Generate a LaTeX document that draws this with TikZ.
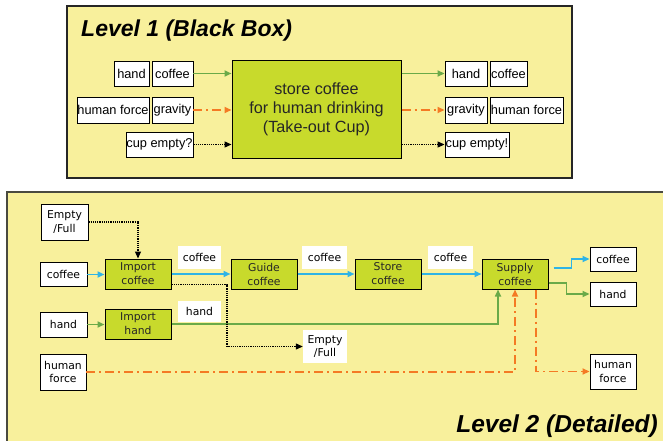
\documentclass[tikz,border=0pt]{standalone}
\usepackage{fontspec}
\setmainfont{Liberation Sans}
\newfontfamily\dvs{DejaVu Sans}
\usetikzlibrary{arrows.meta,calc}

\definecolor{panel}{HTML}{F8F09C}
\definecolor{funcbox}{HTML}{C8DA2C}
\definecolor{flowgreen}{HTML}{6AAA48}
\definecolor{floworange}{HTML}{F47A24}
\definecolor{flowblue}{HTML}{2EB4E6}
\definecolor{frame}{HTML}{4A4A40}

\tikzset{
  x=1pt, y=-1pt,
  tip/.style={-{Triangle[length=7pt,width=6pt]}},
  flowbox/.style={draw=black, fill=white, line width=0.9pt, inner sep=0pt,
    font=\fontsize{12.8}{14}\selectfont},
  flowbox2/.style={draw=black, fill=white, line width=0.9pt, inner sep=0pt,
    align=center, font=\dvs\fontsize{10.8}{13.5}\selectfont},
  labelbox/.style={fill=white, inner sep=0pt, align=center,
    font=\dvs\fontsize{10.8}{13.5}\selectfont},
  funcnode/.style={draw=black, fill=funcbox, line width=1pt, inner sep=0pt,
    align=center, text=black!85},
  greenflow/.style={tip, draw=flowgreen, line width=1.9pt},
  orangeflow/.style={tip, draw=floworange, line width=1.6pt,
    dash pattern=on 9pt off 4pt on 2pt off 4pt},
  blueflow/.style={tip, draw=flowblue, line width=1.9pt},
  signalflow/.style={tip, draw=black, line width=1.2pt, densely dotted},
  title/.style={font=\fontsize{23}{26}\selectfont\bfseries\itshape, inner sep=0pt}
}

\begin{document}
\begin{tikzpicture}
\useasboundingbox (0,0) rectangle (663,441);

% ---------- panels ----------
\fill[white] (0,0) rectangle (663,441);
\draw[fill=panel, draw=black!85, line width=1.3pt] (67,6) rectangle (572,178);
\begin{scope}
  \clip (0,0) rectangle (663,441);
  \draw[fill=panel, draw=frame, line width=2pt] (7,192) rectangle (690,470);
\end{scope}

% ---------- Level 1 ----------
\node[title, anchor=base west] (t1) at (81,37) {Level 1 (Black Box)};

\node[funcnode, minimum width=169pt, minimum height=97pt,
      font=\fontsize{16.2}{19}\selectfont] (core) at (316.5,109.5)
      {store coffee\\for human drinking\\(Take-out Cup)};

\node[flowbox, minimum width=35pt, minimum height=25pt] (ihand) at (131.5,73.5) {hand};
\node[flowbox, minimum width=41pt, minimum height=25pt] (icoffee) at (172.5,73.5) {coffee};
\node[flowbox, minimum width=72pt, minimum height=26pt] (iforce) at (113,110) {human force};
\node[flowbox, minimum width=41pt, minimum height=26pt] (igrav) at (172.5,110) {gravity};
\node[flowbox, minimum width=67pt, minimum height=25pt] (icup) at (159.5,144.5) {cup empty?};

\node[flowbox, minimum width=42pt, minimum height=25pt] (ohand) at (466,73.5) {hand};
\node[flowbox, minimum width=37pt, minimum height=25pt] (ocoffee) at (508.5,73.5) {coffee};
\node[flowbox, minimum width=42pt, minimum height=26pt] (ograv) at (466,110) {gravity};
\node[flowbox, minimum width=73pt, minimum height=26pt] (oforce) at (526.5,110) {human force};
\node[flowbox, minimum width=64pt, minimum height=25pt] (ocup) at (477,144.5) {cup empty!};

\draw[greenflow] (icoffee.east) -- (icoffee.east -| core.west);
\draw[orangeflow] (igrav.east) -- (igrav.east -| core.west);
\draw[signalflow] (icup.east) -- (icup.east -| core.west);
\draw[greenflow] (core.east |- ohand.west) -- (ohand.west);
\draw[orangeflow] (core.east |- ograv.west) -- (ograv.west);
\draw[signalflow] (core.east |- ocup.west) -- (ocup.west);

% ---------- Level 2 ----------
\node[title, anchor=base east, font=\fontsize{24.5}{27}\selectfont\bfseries\itshape] (t2) at (658,432) {Level 2 (Detailed)};

\node[flowbox2, minimum width=47pt, minimum height=36pt] (ef) at (64.5,222) {Empty\\/Full};
\node[flowbox2, minimum width=47pt, minimum height=24pt] (cin) at (63.5,274.5) {coffee};
\node[flowbox2, minimum width=47pt, minimum height=25pt] (hin) at (63.5,324.5) {hand};
\node[flowbox2, minimum width=46pt, minimum height=36pt] (fin) at (63,372) {human\\force};

\tikzset{fn2/.style={funcnode, minimum width=66pt, minimum height=30pt,
  font=\dvs\fontsize{10.8}{14}\selectfont}}
\node[fn2] (ic) at (138,274) {Import\\coffee};
\node[fn2] (ih) at (138,324) {Import\\hand};
\node[fn2] (gc) at (264,274) {Guide\\coffee};
\node[fn2] (sc) at (388,274) {Store\\coffee};
\node[fn2] (sup) at (515,274) {Supply\\coffee};

\node[labelbox, minimum width=43pt, minimum height=23pt] (lc1) at (199.5,257.5) {coffee};
\node[labelbox, minimum width=43pt, minimum height=21pt] (lh) at (199.5,311.5) {hand};
\node[labelbox, minimum width=45pt, minimum height=23pt] (lc2) at (324.5,257.5) {coffee};
\node[labelbox, minimum width=45pt, minimum height=23pt] (lc3) at (450.5,257.5) {coffee};

\node[flowbox2, minimum width=46pt, minimum height=24pt] (cout) at (613,259) {coffee};
\node[flowbox2, minimum width=46pt, minimum height=24pt] (hout) at (613,294) {hand};
\node[flowbox2, minimum width=46pt, minimum height=35pt] (fout) at (613,371.5) {human\\force};
\node[labelbox, minimum width=44pt, minimum height=33pt] (efout) at (325,346.5) {Empty\\/Full};

% coffee path
\draw[blueflow] (cin.east) -- (cin.east -| ic.west);
\draw[blueflow] (ic) -- (gc);
\draw[blueflow] (gc) -- (sc);
\draw[blueflow] (sc) -- (sup);
\draw[blueflow] ([xshift=5pt,yshift=6pt]sup.east) -- ++(18pt,0) |- (cout.west);

% hand path
\draw[greenflow, line width=1.6pt] (hin.east) -- (hin.east -| ih.west);
\draw[greenflow, line width=1.6pt] (ih.east) -| ([xshift=-17pt]sup.south);
\draw[greenflow, line width=1.6pt] ([yshift=-9pt]sup.east) -- ++(18pt,0) |- (hout.west);

% human force path
\draw[orangeflow] (fin.east) -| (sup.south);
\draw[orangeflow] ([xshift=21pt]sup.south) |- (fout.west);

% empty / full signal
\draw[signalflow] (ef.east) -| (ic.north);
\coordinate (sigturn) at (227,346.5);
\draw[signalflow] ([yshift=5pt]ic.south east) -| (sigturn) -- (efout.west);
\end{tikzpicture}
\end{document}
